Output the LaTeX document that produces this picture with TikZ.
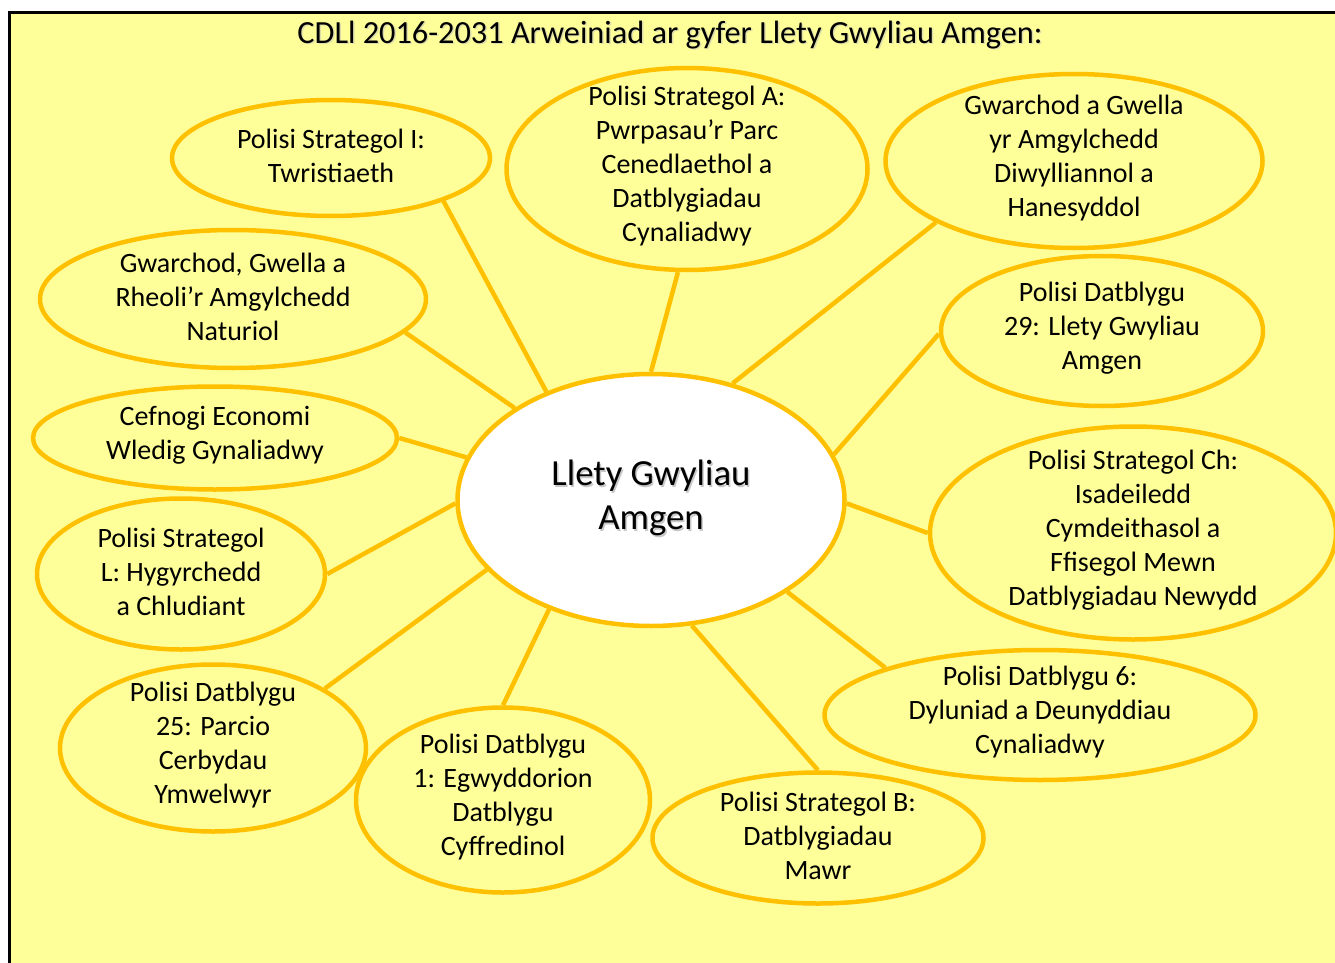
\documentclass[tikz,border=0pt]{standalone}
\usepackage{fontspec}
\setmainfont{Carlito}
\usetikzlibrary{shapes.geometric}
\definecolor{bgyellow}{HTML}{FFFF99}
\definecolor{bubline}{HTML}{FFC000}
\newcommand{\mkbubble}[6]{%
  \node[bub, minimum width=#4pt, minimum height=#5pt] (#1) at (#2,#3) {};
  \node[txt] (#1t) at (#2,#3) {#6};
}
\begin{document}
\begin{tikzpicture}[x=1pt,y=-1pt,
  bub/.style={ellipse, draw=bubline, line width=4.5pt, fill=bgyellow, inner sep=0pt},
  txt/.style={align=center, font=\fontsize{28}{34}\selectfont, inner sep=0pt, yshift=2.5pt},
  conn/.style={draw=bubline, line width=4.5pt}]
\useasboundingbox (0,0) rectangle (1335,963);
\fill[white] (0,0) rectangle (1335,963);
\draw[fill=bgyellow, line width=3pt] (9.5,13) rectangle (1350,980);
\node[font=\fontsize{32.3}{36}\selectfont, inner sep=0pt, text=gray!50, opacity=0.5] (titles) at (671.5,36.5) {CDLl 2016-2031 Arweiniad ar gyfer Llety Gwyliau Amgen:};
\node[font=\fontsize{32.3}{36}\selectfont, inner sep=0pt] (title) at (670,35) {CDLl 2016-2031 Arweiniad ar gyfer Llety Gwyliau Amgen:};

\node[ellipse, draw=bubline, line width=4.5pt, fill=white, minimum width=387pt, minimum height=252pt, inner sep=0pt] (c) at (651,500) {};
\node[font=\fontsize{36.8}{44}\selectfont, align=center, inner sep=0pt, text=gray!60, opacity=0.7] (cs) at (652.5,499.5) {Llety Gwyliau\\Amgen};
\node[font=\fontsize{36.8}{44}\selectfont, align=center, inner sep=0pt] (ct) at (651,498) {Llety Gwyliau\\Amgen};

\mkbubble{i}{331}{158}{318}{116}{Polisi Strategol I:\\Twristiaeth}
\mkbubble{a}{687}{169}{361}{202}{Polisi Strategol A:\\Pwrpasau’r Parc\\Cenedlaethol a\\Datblygiadau\\Cynaliadwy}
\mkbubble{gg}{1074}{161}{377}{174}{Gwarchod a Gwella\\yr Amgylchedd\\Diwylliannol a\\Hanesyddol}
\mkbubble{gr}{233}{299}{386}{138}{Gwarchod, Gwella a\\Rheoli’r Amgylchedd\\Naturiol}
\mkbubble{p29}{1102}{331}{322}{150}{Polisi Datblygu\\29: Llety Gwyliau\\Amgen}
\mkbubble{ce}{215}{438}{364}{103}{Cefnogi Economi\\Wledig Gynaliadwy}
\mkbubble{ch}{1133}{533}{406}{213}{Polisi Strategol Ch:\\Isadeiledd\\Cymdeithasol a\\Ffisegol Mewn\\Datblygiadau Newydd}
\mkbubble{l}{181}{574}{288}{151}{Polisi Strategol\\L: Hygyrchedd\\a Chludiant}
\mkbubble{p6}{1040}{715}{431}{130}{Polisi Datblygu 6:\\Dyluniad a Deunyddiau\\Cynaliadwy}
\mkbubble{p25}{213}{748}{306}{167}{Polisi Datblygu\\25: Parcio\\Cerbydau\\Ymwelwyr}
\mkbubble{p1}{503}{800}{294}{185}{Polisi Datblygu\\1: Egwyddorion\\Datblygu\\Cyffredinol}
\mkbubble{sb}{818}{838}{331}{131}{Polisi Strategol B:\\Datblygiadau\\Mawr}

\draw[conn] (c.134) -- (i.339);
\draw[conn] (c.90) -- (a.265);
\draw[conn] (c.55) -- (gg.204);
\draw[conn] (c.146) -- (gr.349);
\draw[conn] (c.14) -- (p29.181);
\draw[conn] (c.167) -- (ce.0);
\draw[conn] (c.359) -- (ch.180);
\draw[conn] (c.181) -- (l.0);
\draw[conn] (c.326) -- (p6.163);
\draw[conn] (c.203) -- (p25.28);
\draw[conn] (c.227) -- (p1.90);
\draw[conn] (c.288) -- (sb.90);
\end{tikzpicture}
\end{document}
